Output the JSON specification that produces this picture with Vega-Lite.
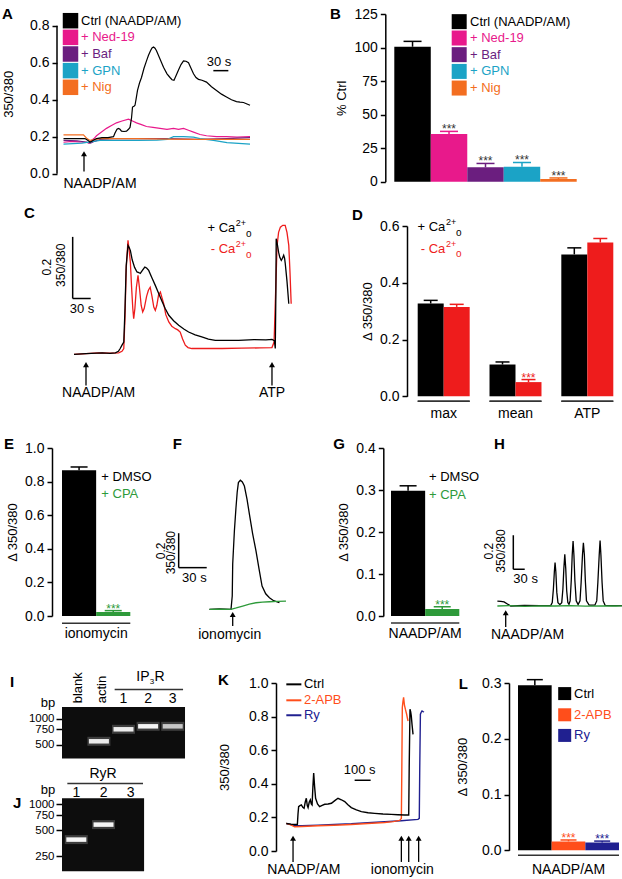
{
"$schema": "https://vega.github.io/schema/vega-lite/v6.json",
"padding": {"left": 2, "top": 6, "right": 0, "bottom": 0},
"background": "white",
"config": {
  "font": "Liberation Sans",
  "view": {"stroke": null},
  "axis": {"grid": false, "domainColor": "black", "tickColor": "black", "labelColor": "black", "titleColor": "black", "domainWidth": 1.5, "tickWidth": 1.5, "tickSize": 5, "labelFontSize": 14, "titleFontSize": 13, "titleFontWeight": "normal", "labelFont": "Liberation Sans", "titleFont": "Liberation Sans", "labelPadding": 3, "titlePadding": 5, "labelOverlap": false, "labelFlush": false},
  "text": {"font": "Liberation Sans", "color": "black"}
},
"datasets": {
  "A": [
    {"series":"+ Ned-19","t":3,"v":0.17},{"series":"+ Ned-19","t":20,"v":0.175},{"series":"+ Ned-19","t":35,"v":0.172},{"series":"+ Ned-19","t":49,"v":0.17},{"series":"+ Ned-19","t":54,"v":0.165},{"series":"+ Ned-19","t":59,"v":0.18},{"series":"+ Ned-19","t":64,"v":0.19},{"series":"+ Ned-19","t":69,"v":0.205},{"series":"+ Ned-19","t":79,"v":0.225},{"series":"+ Ned-19","t":89,"v":0.245},{"series":"+ Ned-19","t":99,"v":0.26},{"series":"+ Ned-19","t":109,"v":0.275},{"series":"+ Ned-19","t":120,"v":0.285},{"series":"+ Ned-19","t":133,"v":0.295},{"series":"+ Ned-19","t":141,"v":0.285},{"series":"+ Ned-19","t":149,"v":0.275},{"series":"+ Ned-19","t":159,"v":0.265},{"series":"+ Ned-19","t":169,"v":0.255},{"series":"+ Ned-19","t":182,"v":0.25},{"series":"+ Ned-19","t":196,"v":0.245},{"series":"+ Ned-19","t":210,"v":0.24},{"series":"+ Ned-19","t":223,"v":0.245},{"series":"+ Ned-19","t":233,"v":0.24},{"series":"+ Ned-19","t":243,"v":0.245},{"series":"+ Ned-19","t":253,"v":0.235},{"series":"+ Ned-19","t":263,"v":0.225},{"series":"+ Ned-19","t":276,"v":0.212},{"series":"+ Ned-19","t":289,"v":0.205},{"series":"+ Ned-19","t":309,"v":0.2},{"series":"+ Ned-19","t":329,"v":0.2},{"series":"+ Ned-19","t":350,"v":0.198},{"series":"+ Ned-19","t":376,"v":0.2},
    {"series":"+ Baf","t":3,"v":0.18},{"series":"+ Baf","t":30,"v":0.178},{"series":"+ Baf","t":50,"v":0.17},{"series":"+ Baf","t":57,"v":0.165},{"series":"+ Baf","t":65,"v":0.175},{"series":"+ Baf","t":76,"v":0.185},{"series":"+ Baf","t":103,"v":0.19},{"series":"+ Baf","t":150,"v":0.19},{"series":"+ Baf","t":210,"v":0.19},{"series":"+ Baf","t":270,"v":0.185},{"series":"+ Baf","t":330,"v":0.19},{"series":"+ Baf","t":376,"v":0.195},
    {"series":"+ GPN","t":3,"v":0.16},{"series":"+ GPN","t":40,"v":0.165},{"series":"+ GPN","t":76,"v":0.18},{"series":"+ GPN","t":150,"v":0.18},{"series":"+ GPN","t":190,"v":0.182},{"series":"+ GPN","t":210,"v":0.185},{"series":"+ GPN","t":223,"v":0.2},{"series":"+ GPN","t":243,"v":0.2},{"series":"+ GPN","t":263,"v":0.198},{"series":"+ GPN","t":276,"v":0.19},{"series":"+ GPN","t":303,"v":0.18},{"series":"+ GPN","t":330,"v":0.168},{"series":"+ GPN","t":376,"v":0.16},
    {"series":"+ Nig","t":3,"v":0.21},{"series":"+ Nig","t":43,"v":0.21},{"series":"+ Nig","t":50,"v":0.19},{"series":"+ Nig","t":56,"v":0.18},{"series":"+ Nig","t":76,"v":0.19},{"series":"+ Nig","t":150,"v":0.19},{"series":"+ Nig","t":210,"v":0.187},{"series":"+ Nig","t":270,"v":0.185},{"series":"+ Nig","t":330,"v":0.185},{"series":"+ Nig","t":376,"v":0.185},
    {"series":"Ctrl (NAADP/AM)","t":3,"v":0.19},{"series":"Ctrl (NAADP/AM)","t":20,"v":0.19},{"series":"Ctrl (NAADP/AM)","t":35,"v":0.19},{"series":"Ctrl (NAADP/AM)","t":46,"v":0.19},{"series":"Ctrl (NAADP/AM)","t":52,"v":0.18},{"series":"Ctrl (NAADP/AM)","t":56,"v":0.17},{"series":"Ctrl (NAADP/AM)","t":62,"v":0.18},{"series":"Ctrl (NAADP/AM)","t":69,"v":0.19},{"series":"Ctrl (NAADP/AM)","t":80,"v":0.195},{"series":"Ctrl (NAADP/AM)","t":92,"v":0.195},{"series":"Ctrl (NAADP/AM)","t":103,"v":0.2},{"series":"Ctrl (NAADP/AM)","t":106,"v":0.22},{"series":"Ctrl (NAADP/AM)","t":110,"v":0.24},{"series":"Ctrl (NAADP/AM)","t":113,"v":0.245},{"series":"Ctrl (NAADP/AM)","t":116,"v":0.24},{"series":"Ctrl (NAADP/AM)","t":119,"v":0.23},{"series":"Ctrl (NAADP/AM)","t":124,"v":0.228},{"series":"Ctrl (NAADP/AM)","t":129,"v":0.23},{"series":"Ctrl (NAADP/AM)","t":133,"v":0.24},{"series":"Ctrl (NAADP/AM)","t":136,"v":0.25},{"series":"Ctrl (NAADP/AM)","t":139,"v":0.3},{"series":"Ctrl (NAADP/AM)","t":141,"v":0.36},{"series":"Ctrl (NAADP/AM)","t":144,"v":0.365},{"series":"Ctrl (NAADP/AM)","t":146,"v":0.37},{"series":"Ctrl (NAADP/AM)","t":148,"v":0.4},{"series":"Ctrl (NAADP/AM)","t":151,"v":0.45},{"series":"Ctrl (NAADP/AM)","t":155,"v":0.49},{"series":"Ctrl (NAADP/AM)","t":159,"v":0.52},{"series":"Ctrl (NAADP/AM)","t":164,"v":0.57},{"series":"Ctrl (NAADP/AM)","t":169,"v":0.61},{"series":"Ctrl (NAADP/AM)","t":173,"v":0.64},{"series":"Ctrl (NAADP/AM)","t":177,"v":0.665},{"series":"Ctrl (NAADP/AM)","t":180,"v":0.68},{"series":"Ctrl (NAADP/AM)","t":183,"v":0.685},{"series":"Ctrl (NAADP/AM)","t":186,"v":0.678},{"series":"Ctrl (NAADP/AM)","t":189,"v":0.665},{"series":"Ctrl (NAADP/AM)","t":196,"v":0.62},{"series":"Ctrl (NAADP/AM)","t":203,"v":0.575},{"series":"Ctrl (NAADP/AM)","t":210,"v":0.54},{"series":"Ctrl (NAADP/AM)","t":216,"v":0.52},{"series":"Ctrl (NAADP/AM)","t":220,"v":0.508},{"series":"Ctrl (NAADP/AM)","t":224,"v":0.505},{"series":"Ctrl (NAADP/AM)","t":228,"v":0.53},{"series":"Ctrl (NAADP/AM)","t":233,"v":0.56},{"series":"Ctrl (NAADP/AM)","t":238,"v":0.59},{"series":"Ctrl (NAADP/AM)","t":243,"v":0.61},{"series":"Ctrl (NAADP/AM)","t":248,"v":0.608},{"series":"Ctrl (NAADP/AM)","t":253,"v":0.6},{"series":"Ctrl (NAADP/AM)","t":258,"v":0.57},{"series":"Ctrl (NAADP/AM)","t":263,"v":0.54},{"series":"Ctrl (NAADP/AM)","t":268,"v":0.52},{"series":"Ctrl (NAADP/AM)","t":273,"v":0.51},{"series":"Ctrl (NAADP/AM)","t":280,"v":0.505},{"series":"Ctrl (NAADP/AM)","t":289,"v":0.495},{"series":"Ctrl (NAADP/AM)","t":299,"v":0.47},{"series":"Ctrl (NAADP/AM)","t":309,"v":0.45},{"series":"Ctrl (NAADP/AM)","t":319,"v":0.43},{"series":"Ctrl (NAADP/AM)","t":329,"v":0.415},{"series":"Ctrl (NAADP/AM)","t":339,"v":0.4},{"series":"Ctrl (NAADP/AM)","t":349,"v":0.39},{"series":"Ctrl (NAADP/AM)","t":356,"v":0.387},{"series":"Ctrl (NAADP/AM)","t":363,"v":0.385},{"series":"Ctrl (NAADP/AM)","t":370,"v":0.377},{"series":"Ctrl (NAADP/AM)","t":376,"v":0.37}
  ],
  "B": [
    {"series":"Ctrl (NAADP/AM)","value":100.6,"err":104.6,"sig":""},
    {"series":"+ Ned-19","value":35.5,"err":37.5,"sig":"***"},
    {"series":"+ Baf","value":10.7,"err":13.6,"sig":"***"},
    {"series":"+ GPN","value":11.2,"err":14.4,"sig":"***"},
    {"series":"+ Nig","value":2.0,"err":2.8,"sig":"***"}
  ],
  "C": [
    {"cond":"- Ca","t":0,"v":0},{"cond":"- Ca","t":20,"v":0.002},{"cond":"- Ca","t":41,"v":0.005},{"cond":"- Ca","t":60,"v":0.004},{"cond":"- Ca","t":74.5,"v":0.005},{"cond":"- Ca","t":80,"v":0.01},{"cond":"- Ca","t":83,"v":0.019},{"cond":"- Ca","t":85,"v":0.12},{"cond":"- Ca","t":87,"v":0.28},{"cond":"- Ca","t":90,"v":0.374},{"cond":"- Ca","t":92,"v":0.34},{"cond":"- Ca","t":94,"v":0.3},{"cond":"- Ca","t":96,"v":0.22},{"cond":"- Ca","t":98,"v":0.15},{"cond":"- Ca","t":99.5,"v":0.117},{"cond":"- Ca","t":101.5,"v":0.15},{"cond":"- Ca","t":104,"v":0.22},{"cond":"- Ca","t":106.7,"v":0.259},{"cond":"- Ca","t":109,"v":0.22},{"cond":"- Ca","t":112,"v":0.16},{"cond":"- Ca","t":114.5,"v":0.139},{"cond":"- Ca","t":117,"v":0.15},{"cond":"- Ca","t":121,"v":0.19},{"cond":"- Ca","t":124,"v":0.21},{"cond":"- Ca","t":127,"v":0.22},{"cond":"- Ca","t":130,"v":0.19},{"cond":"- Ca","t":133,"v":0.155},{"cond":"- Ca","t":135.5,"v":0.144},{"cond":"- Ca","t":138,"v":0.16},{"cond":"- Ca","t":141,"v":0.195},{"cond":"- Ca","t":144,"v":0.204},{"cond":"- Ca","t":146,"v":0.19},{"cond":"- Ca","t":149.5,"v":0.166},{"cond":"- Ca","t":153,"v":0.13},{"cond":"- Ca","t":158,"v":0.106},{"cond":"- Ca","t":163,"v":0.092},{"cond":"- Ca","t":169,"v":0.084},{"cond":"- Ca","t":173,"v":0.08},{"cond":"- Ca","t":177,"v":0.073},{"cond":"- Ca","t":181,"v":0.05},{"cond":"- Ca","t":185.5,"v":0.03},{"cond":"- Ca","t":190,"v":0.022},{"cond":"- Ca","t":196.5,"v":0.019},{"cond":"- Ca","t":220,"v":0.019},{"cond":"- Ca","t":246.7,"v":0.019},{"cond":"- Ca","t":280,"v":0.02},{"cond":"- Ca","t":310,"v":0.021},{"cond":"- Ca","t":330,"v":0.022},{"cond":"- Ca","t":333.5,"v":0.04},{"cond":"- Ca","t":336,"v":0.2},{"cond":"- Ca","t":338.5,"v":0.357},{"cond":"- Ca","t":341,"v":0.4},{"cond":"- Ca","t":344,"v":0.417},{"cond":"- Ca","t":348,"v":0.423},{"cond":"- Ca","t":352,"v":0.423},{"cond":"- Ca","t":355,"v":0.4},{"cond":"- Ca","t":358,"v":0.357},{"cond":"- Ca","t":360,"v":0.27},{"cond":"- Ca","t":362,"v":0.166},
    {"cond":"+ Ca","t":0,"v":0},{"cond":"+ Ca","t":20,"v":0.002},{"cond":"+ Ca","t":47,"v":0.005},{"cond":"+ Ca","t":60,"v":0.003},{"cond":"+ Ca","t":69,"v":0.005},{"cond":"+ Ca","t":74,"v":0.01},{"cond":"+ Ca","t":77,"v":0.019},{"cond":"+ Ca","t":80,"v":0.03},{"cond":"+ Ca","t":83,"v":0.04},{"cond":"+ Ca","t":85,"v":0.15},{"cond":"+ Ca","t":87,"v":0.29},{"cond":"+ Ca","t":90,"v":0.357},{"cond":"+ Ca","t":92,"v":0.35},{"cond":"+ Ca","t":94,"v":0.34},{"cond":"+ Ca","t":97,"v":0.31},{"cond":"+ Ca","t":101,"v":0.285},{"cond":"+ Ca","t":105,"v":0.27},{"cond":"+ Ca","t":108,"v":0.268},{"cond":"+ Ca","t":110.5,"v":0.265},{"cond":"+ Ca","t":114,"v":0.275},{"cond":"+ Ca","t":118,"v":0.286},{"cond":"+ Ca","t":121,"v":0.283},{"cond":"+ Ca","t":124.5,"v":0.275},{"cond":"+ Ca","t":130,"v":0.25},{"cond":"+ Ca","t":135.5,"v":0.226},{"cond":"+ Ca","t":141,"v":0.2},{"cond":"+ Ca","t":147,"v":0.172},{"cond":"+ Ca","t":152,"v":0.15},{"cond":"+ Ca","t":158,"v":0.128},{"cond":"+ Ca","t":166,"v":0.11},{"cond":"+ Ca","t":174.5,"v":0.095},{"cond":"+ Ca","t":183,"v":0.083},{"cond":"+ Ca","t":191,"v":0.073},{"cond":"+ Ca","t":202,"v":0.064},{"cond":"+ Ca","t":213,"v":0.057},{"cond":"+ Ca","t":224,"v":0.05},{"cond":"+ Ca","t":235.5,"v":0.046},{"cond":"+ Ca","t":255,"v":0.046},{"cond":"+ Ca","t":274.5,"v":0.046},{"cond":"+ Ca","t":300,"v":0.048},{"cond":"+ Ca","t":320,"v":0.047},{"cond":"+ Ca","t":330,"v":0.049},{"cond":"+ Ca","t":334,"v":0.045},{"cond":"+ Ca","t":335.5,"v":0.019},{"cond":"+ Ca","t":336.5,"v":0.2},{"cond":"+ Ca","t":337,"v":0.379},{"cond":"+ Ca","t":339,"v":0.36},{"cond":"+ Ca","t":341,"v":0.335},{"cond":"+ Ca","t":343,"v":0.318},{"cond":"+ Ca","t":345.5,"v":0.308},{"cond":"+ Ca","t":347.5,"v":0.315},{"cond":"+ Ca","t":349.5,"v":0.325},{"cond":"+ Ca","t":351,"v":0.315},{"cond":"+ Ca","t":352,"v":0.3},{"cond":"+ Ca","t":355,"v":0.24},{"cond":"+ Ca","t":358,"v":0.166}
  ],
  "D": [
    {"group":"max","cond":"+ Ca","value":0.327,"err":0.338,"sig":""},
    {"group":"max","cond":"- Ca","value":0.315,"err":0.324,"sig":""},
    {"group":"mean","cond":"+ Ca","value":0.112,"err":0.121,"sig":""},
    {"group":"mean","cond":"- Ca","value":0.05,"err":0.059,"sig":"***"},
    {"group":"ATP","cond":"+ Ca","value":0.5,"err":0.523,"sig":""},
    {"group":"ATP","cond":"- Ca","value":0.542,"err":0.556,"sig":""}
  ],
  "E": [
    {"cond":"+ DMSO","value":0.867,"err":0.887,"sig":""},
    {"cond":"+ CPA","value":0.024,"err":0.032,"sig":"***"}
  ],
  "F": [
    {"cond":"+ DMSO","t":39.3,"v":0},{"cond":"+ DMSO","t":50,"v":0.002},{"cond":"+ DMSO","t":62.4,"v":0},{"cond":"+ DMSO","t":63.7,"v":0.077},{"cond":"+ DMSO","t":64.2,"v":0.263},{"cond":"+ DMSO","t":66,"v":0.455},{"cond":"+ DMSO","t":67.7,"v":0.59},{"cond":"+ DMSO","t":69,"v":0.68},{"cond":"+ DMSO","t":70.3,"v":0.736},{"cond":"+ DMSO","t":72.4,"v":0.75},{"cond":"+ DMSO","t":74.5,"v":0.74},{"cond":"+ DMSO","t":76.7,"v":0.716},{"cond":"+ DMSO","t":79.5,"v":0.64},{"cond":"+ DMSO","t":82.1,"v":0.552},{"cond":"+ DMSO","t":85.5,"v":0.44},{"cond":"+ DMSO","t":89.1,"v":0.339},{"cond":"+ DMSO","t":92.5,"v":0.23},{"cond":"+ DMSO","t":95.6,"v":0.135},{"cond":"+ DMSO","t":99.5,"v":0.09},{"cond":"+ DMSO","t":103.5,"v":0.067},{"cond":"+ DMSO","t":108,"v":0.05},{"cond":"+ DMSO","t":114.2,"v":0.038},
    {"cond":"+ CPA","t":39.3,"v":0},{"cond":"+ CPA","t":50,"v":0.001},{"cond":"+ CPA","t":62.4,"v":0},{"cond":"+ CPA","t":68,"v":0.008},{"cond":"+ CPA","t":74.9,"v":0.019},{"cond":"+ CPA","t":82,"v":0.03},{"cond":"+ CPA","t":89.1,"v":0.038},{"cond":"+ CPA","t":96,"v":0.042},{"cond":"+ CPA","t":103.5,"v":0.044},{"cond":"+ CPA","t":112,"v":0.046},{"cond":"+ CPA","t":121.2,"v":0.048}
  ],
  "G": [
    {"cond":"+ DMSO","value":0.298,"err":0.31,"sig":""},
    {"cond":"+ CPA","value":0.0167,"err":0.022,"sig":"***"}
  ],
  "H": [
    {"cond":"+ DMSO","t":8.7,"v":0.029},{"cond":"+ DMSO","t":18,"v":0.027},{"cond":"+ DMSO","t":26.3,"v":0.024},{"cond":"+ DMSO","t":35,"v":0.012},{"cond":"+ DMSO","t":43.9,"v":0},{"cond":"+ DMSO","t":80,"v":0.003},{"cond":"+ DMSO","t":120,"v":0.002},{"cond":"+ DMSO","t":149,"v":0.003},{"cond":"+ DMSO","t":153,"v":0.02},{"cond":"+ DMSO","t":156,"v":0.1},{"cond":"+ DMSO","t":158.5,"v":0.2},{"cond":"+ DMSO","t":160.4,"v":0.255},{"cond":"+ DMSO","t":162.5,"v":0.2},{"cond":"+ DMSO","t":165,"v":0.08},{"cond":"+ DMSO","t":168,"v":0.02},{"cond":"+ DMSO","t":173,"v":0.008},{"cond":"+ DMSO","t":178,"v":0.02},{"cond":"+ DMSO","t":181,"v":0.1},{"cond":"+ DMSO","t":183.5,"v":0.22},{"cond":"+ DMSO","t":186,"v":0.304},{"cond":"+ DMSO","t":188.5,"v":0.22},{"cond":"+ DMSO","t":191,"v":0.09},{"cond":"+ DMSO","t":194,"v":0.02},{"cond":"+ DMSO","t":197,"v":0.01},{"cond":"+ DMSO","t":200,"v":0.03},{"cond":"+ DMSO","t":203,"v":0.15},{"cond":"+ DMSO","t":205.5,"v":0.3},{"cond":"+ DMSO","t":207.8,"v":0.382},{"cond":"+ DMSO","t":210,"v":0.3},{"cond":"+ DMSO","t":212.5,"v":0.15},{"cond":"+ DMSO","t":216,"v":0.03},{"cond":"+ DMSO","t":221,"v":0.008},{"cond":"+ DMSO","t":226,"v":0.03},{"cond":"+ DMSO","t":229,"v":0.14},{"cond":"+ DMSO","t":232.5,"v":0.3},{"cond":"+ DMSO","t":234.9,"v":0.372},{"cond":"+ DMSO","t":237.5,"v":0.3},{"cond":"+ DMSO","t":240,"v":0.15},{"cond":"+ DMSO","t":243,"v":0.03},{"cond":"+ DMSO","t":250,"v":0.005},{"cond":"+ DMSO","t":265,"v":0.005},{"cond":"+ DMSO","t":270,"v":0.03},{"cond":"+ DMSO","t":273,"v":0.14},{"cond":"+ DMSO","t":276.5,"v":0.3},{"cond":"+ DMSO","t":278.8,"v":0.385},{"cond":"+ DMSO","t":281,"v":0.3},{"cond":"+ DMSO","t":284,"v":0.14},{"cond":"+ DMSO","t":287,"v":0.03},{"cond":"+ DMSO","t":292,"v":0.004},{"cond":"+ DMSO","t":310,"v":0.002},{"cond":"+ DMSO","t":340,"v":0.002},
    {"cond":"+ CPA","t":8.7,"v":0},{"cond":"+ CPA","t":40,"v":0.002},{"cond":"+ CPA","t":80,"v":-0.002},{"cond":"+ CPA","t":120,"v":0.001},{"cond":"+ CPA","t":160,"v":0},{"cond":"+ CPA","t":200,"v":0.002},{"cond":"+ CPA","t":240,"v":-0.001},{"cond":"+ CPA","t":280,"v":0.001},{"cond":"+ CPA","t":320,"v":0},{"cond":"+ CPA","t":340,"v":0.001}
  ],
  "K": [
    {"series":"Ry","t":52,"v":0.164},{"series":"Ry","t":80,"v":0.158},{"series":"Ry","t":104,"v":0.15},{"series":"Ry","t":150,"v":0.15},{"series":"Ry","t":250,"v":0.154},{"series":"Ry","t":350,"v":0.158},{"series":"Ry","t":458,"v":0.162},{"series":"Ry","t":560,"v":0.168},{"series":"Ry","t":667,"v":0.174},{"series":"Ry","t":770,"v":0.18},{"series":"Ry","t":875,"v":0.188},{"series":"Ry","t":883,"v":0.194},{"series":"Ry","t":886,"v":0.5},{"series":"Ry","t":890,"v":0.814},{"series":"Ry","t":895,"v":0.826},{"series":"Ry","t":900,"v":0.834},{"series":"Ry","t":906,"v":0.83},{"series":"Ry","t":913,"v":0.828},
    {"series":"2-APB","t":52,"v":0.164},{"series":"2-APB","t":80,"v":0.155},{"series":"2-APB","t":104,"v":0.144},{"series":"2-APB","t":150,"v":0.146},{"series":"2-APB","t":250,"v":0.15},{"series":"2-APB","t":350,"v":0.153},{"series":"2-APB","t":458,"v":0.158},{"series":"2-APB","t":560,"v":0.164},{"series":"2-APB","t":667,"v":0.17},{"series":"2-APB","t":720,"v":0.175},{"series":"2-APB","t":760,"v":0.182},{"series":"2-APB","t":771,"v":0.194},{"series":"2-APB","t":774,"v":0.5},{"series":"2-APB","t":777,"v":0.854},{"series":"2-APB","t":781,"v":0.89},{"series":"2-APB","t":785,"v":0.914},{"series":"2-APB","t":790,"v":0.87},{"series":"2-APB","t":796,"v":0.844},{"series":"2-APB","t":804,"v":0.814},{"series":"2-APB","t":809,"v":0.79},{"series":"2-APB","t":813,"v":0.774},
    {"series":"Ctrl","t":52,"v":0.164},{"series":"Ctrl","t":80,"v":0.16},{"series":"Ctrl","t":104,"v":0.158},{"series":"Ctrl","t":121,"v":0.158},{"series":"Ctrl","t":125,"v":0.22},{"series":"Ctrl","t":129,"v":0.264},{"series":"Ctrl","t":137,"v":0.27},{"series":"Ctrl","t":146,"v":0.274},{"series":"Ctrl","t":155,"v":0.26},{"series":"Ctrl","t":163,"v":0.254},{"series":"Ctrl","t":170,"v":0.29},{"series":"Ctrl","t":177,"v":0.314},{"series":"Ctrl","t":183,"v":0.27},{"series":"Ctrl","t":188,"v":0.258},{"series":"Ctrl","t":195,"v":0.29},{"series":"Ctrl","t":202,"v":0.304},{"series":"Ctrl","t":208,"v":0.28},{"series":"Ctrl","t":213,"v":0.274},{"series":"Ctrl","t":218,"v":0.38},{"series":"Ctrl","t":223,"v":0.464},{"series":"Ctrl","t":229,"v":0.38},{"series":"Ctrl","t":235,"v":0.314},{"series":"Ctrl","t":247,"v":0.28},{"series":"Ctrl","t":260,"v":0.264},{"series":"Ctrl","t":276,"v":0.272},{"series":"Ctrl","t":292,"v":0.278},{"series":"Ctrl","t":313,"v":0.28},{"series":"Ctrl","t":334,"v":0.284},{"series":"Ctrl","t":355,"v":0.3},{"series":"Ctrl","t":375,"v":0.314},{"series":"Ctrl","t":396,"v":0.305},{"series":"Ctrl","t":417,"v":0.294},{"series":"Ctrl","t":437,"v":0.275},{"series":"Ctrl","t":458,"v":0.258},{"series":"Ctrl","t":490,"v":0.245},{"series":"Ctrl","t":521,"v":0.234},{"series":"Ctrl","t":563,"v":0.228},{"series":"Ctrl","t":604,"v":0.224},{"series":"Ctrl","t":656,"v":0.22},{"series":"Ctrl","t":708,"v":0.218},{"series":"Ctrl","t":750,"v":0.216},{"series":"Ctrl","t":792,"v":0.214},{"series":"Ctrl","t":817,"v":0.214},{"series":"Ctrl","t":820,"v":0.5},{"series":"Ctrl","t":825,"v":0.844},{"series":"Ctrl","t":829,"v":0.83},{"series":"Ctrl","t":833,"v":0.804},{"series":"Ctrl","t":838,"v":0.75},{"series":"Ctrl","t":844,"v":0.694}
  ],
  "L": [
    {"series":"Ctrl","value":0.296,"err":0.306,"sig":""},
    {"series":"2-APB","value":0.016,"err":0.0185,"sig":"***"},
    {"series":"Ry","value":0.0138,"err":0.0165,"sig":"***"}
  ],
  "gelI": [
    {"lane":2,"bp":546,"intensity":0.95},
    {"lane":3,"bp":752,"intensity":0.95},
    {"lane":4,"bp":814,"intensity":1},
    {"lane":5,"bp":814,"intensity":0.75}
  ],
  "gelJ": [
    {"lane":1,"bp":388,"intensity":1},
    {"lane":2,"bp":580,"intensity":1}
  ]
},
"resolve": {"scale": {"color": "independent", "x": "independent", "y": "independent", "opacity": "independent"}},
"spacing": 15,
"vconcat": [
 {"spacing": 14,
  "resolve": {"scale": {"color": "independent", "x": "independent", "y": "independent", "opacity": "independent"}},
  "vconcat": [
   {"hconcat": [
     {"width": 190, "height": 159.7,
      "layer": [
       {"data": {"name": "A"}, "mark": {"type": "line", "strokeWidth": 1.2},
        "encoding": {
         "x": {"field": "t", "type": "quantitative", "scale": {"domain": [0, 380], "nice": false, "zero": false}, "axis": null},
         "y": {"field": "v", "type": "quantitative", "scale": {"domain": [0, 0.8632], "nice": false, "zero": false}, "axis": {"values": [0, 0.2, 0.4, 0.6, 0.8], "tickCount": 12, "format": ".1f", "domain": false, "offset": 5, "title": "350/380", "titlePadding": 14}},
         "color": {"field": "series", "type": "nominal", "scale": {"domain": ["Ctrl (NAADP/AM)", "+ Ned-19", "+ Baf", "+ GPN", "+ Nig"], "range": ["#000000", "#E8198B", "#6B1E7F", "#1BA3C6", "#F36E21"]}, "legend": null}}},
       {"data": {"values": [{}]}, "layer": [
         {"mark": {"type": "rule", "strokeWidth": 1.5, "color": "black"}, "encoding": {"x": {"datum": -10}, "y": {"datum": 0}, "y2": {"datum": 0.8}}},
         {"mark": {"type": "point", "shape": "square", "filled": true, "size": 240, "opacity": 1, "color": "#000000"}, "encoding": {"x": {"datum": 17}, "y": {"datum": 0.827}}},
         {"mark": {"type": "point", "shape": "square", "filled": true, "size": 240, "opacity": 1, "color": "#E8198B"}, "encoding": {"x": {"datum": 17}, "y": {"datum": 0.737}}},
         {"mark": {"type": "point", "shape": "square", "filled": true, "size": 240, "opacity": 1, "color": "#6B1E7F"}, "encoding": {"x": {"datum": 17}, "y": {"datum": 0.647}}},
         {"mark": {"type": "point", "shape": "square", "filled": true, "size": 240, "opacity": 1, "color": "#1BA3C6"}, "encoding": {"x": {"datum": 17}, "y": {"datum": 0.557}}},
         {"mark": {"type": "point", "shape": "square", "filled": true, "size": 240, "opacity": 1, "color": "#F36E21"}, "encoding": {"x": {"datum": 17}, "y": {"datum": 0.467}}},
         {"mark": {"type": "text", "text": "Ctrl (NAADP/AM)", "align": "left", "baseline": "middle", "fontSize": 13, "color": "#000000"}, "encoding": {"x": {"datum": 38}, "y": {"datum": 0.827}}},
         {"mark": {"type": "text", "text": "+ Ned-19", "align": "left", "baseline": "middle", "fontSize": 13, "color": "#E8198B"}, "encoding": {"x": {"datum": 38}, "y": {"datum": 0.737}}},
         {"mark": {"type": "text", "text": "+ Baf", "align": "left", "baseline": "middle", "fontSize": 13, "color": "#6B1E7F"}, "encoding": {"x": {"datum": 38}, "y": {"datum": 0.647}}},
         {"mark": {"type": "text", "text": "+ GPN", "align": "left", "baseline": "middle", "fontSize": 13, "color": "#1BA3C6"}, "encoding": {"x": {"datum": 38}, "y": {"datum": 0.557}}},
         {"mark": {"type": "text", "text": "+ Nig", "align": "left", "baseline": "middle", "fontSize": 13, "color": "#F36E21"}, "encoding": {"x": {"datum": 38}, "y": {"datum": 0.467}}},
         {"mark": {"type": "rule", "strokeWidth": 1.5, "color": "black"}, "encoding": {"x": {"datum": 302.7}, "x2": {"datum": 332.7}, "y": {"datum": 0.557}}},
         {"mark": {"type": "text", "text": "30 s", "align": "center", "baseline": "middle", "fontSize": 13}, "encoding": {"x": {"datum": 314}, "y": {"datum": 0.605}}},
         {"mark": {"type": "rule", "strokeWidth": 1.3, "color": "black"}, "encoding": {"x": {"datum": 44}, "y": {"datum": 0.012}, "y2": {"datum": 0.1}}},
         {"mark": {"type": "point", "shape": "triangle-up", "filled": true, "size": 35, "opacity": 1, "color": "black"}, "encoding": {"x": {"datum": 44}, "y": {"datum": 0.108}}},
         {"mark": {"type": "text", "text": "NAADP/AM", "align": "center", "baseline": "middle", "fontSize": 14}, "encoding": {"x": {"datum": 76}, "y": {"datum": -0.056}}},
         {"mark": {"type": "text", "text": "A", "align": "left", "baseline": "middle", "fontSize": 15, "fontWeight": "bold"}, "encoding": {"x": {"datum": -120}, "y": {"datum": 0.865}}}
       ]}
      ]},
     {"width": 182.4, "height": 167.7,
      "layer": [
       {"data": {"name": "B"}, "layer": [
         {"mark": {"type": "bar"},
          "encoding": {
           "x": {"field": "series", "type": "nominal", "sort": null, "scale": {"domain": ["Ctrl (NAADP/AM)", "+ Ned-19", "+ Baf", "+ GPN", "+ Nig"], "paddingInner": 0, "paddingOuter": 0}, "axis": null},
           "y": {"field": "value", "type": "quantitative", "scale": {"domain": [0, 125], "nice": false}, "axis": {"values": [0, 25, 50, 75, 100, 125], "tickCount": 12, "offset": 9, "title": "% Ctrl"}},
           "color": {"field": "series", "type": "nominal", "scale": {"domain": ["Ctrl (NAADP/AM)", "+ Ned-19", "+ Baf", "+ GPN", "+ Nig"], "range": ["#000000", "#E8198B", "#6B1E7F", "#1BA3C6", "#F36E21"]}, "legend": null}}},
         {"mark": {"type": "rule", "strokeWidth": 1.5}, "encoding": {"x": {"field": "series", "type": "nominal"}, "y": {"field": "value", "type": "quantitative"}, "y2": {"field": "err"}, "color": {"field": "series", "type": "nominal"}}},
         {"mark": {"type": "tick", "orient": "horizontal", "size": 18, "thickness": 1.5, "opacity": 1}, "encoding": {"x": {"field": "series", "type": "nominal"}, "y": {"field": "err", "type": "quantitative"}, "color": {"field": "series", "type": "nominal"}}},
         {"mark": {"type": "text", "baseline": "alphabetic", "dy": 2, "fontSize": 12, "color": "#333333"}, "encoding": {"x": {"field": "series", "type": "nominal"}, "y": {"field": "err", "type": "quantitative"}, "text": {"field": "sig"}}}
       ]},
       {"data": {"values": [{}]}, "layer": [
         {"mark": {"type": "point", "shape": "square", "filled": true, "size": 225, "opacity": 1, "color": "#000000"}, "encoding": {"x": {"datum": "Ctrl (NAADP/AM)", "bandPosition": 1.779}, "y": {"datum": 119.3}}},
         {"mark": {"type": "point", "shape": "square", "filled": true, "size": 225, "opacity": 1, "color": "#E8198B"}, "encoding": {"x": {"datum": "Ctrl (NAADP/AM)", "bandPosition": 1.779}, "y": {"datum": 107.1}}},
         {"mark": {"type": "point", "shape": "square", "filled": true, "size": 225, "opacity": 1, "color": "#6B1E7F"}, "encoding": {"x": {"datum": "Ctrl (NAADP/AM)", "bandPosition": 1.779}, "y": {"datum": 94.7}}},
         {"mark": {"type": "point", "shape": "square", "filled": true, "size": 225, "opacity": 1, "color": "#1BA3C6"}, "encoding": {"x": {"datum": "Ctrl (NAADP/AM)", "bandPosition": 1.779}, "y": {"datum": 82.2}}},
         {"mark": {"type": "point", "shape": "square", "filled": true, "size": 225, "opacity": 1, "color": "#F36E21"}, "encoding": {"x": {"datum": "Ctrl (NAADP/AM)", "bandPosition": 1.779}, "y": {"datum": 69.8}}},
         {"mark": {"type": "text", "text": "Ctrl (NAADP/AM)", "align": "left", "baseline": "middle", "fontSize": 13, "color": "#000000"}, "encoding": {"x": {"datum": "Ctrl (NAADP/AM)", "bandPosition": 2.075}, "y": {"datum": 119.3}}},
         {"mark": {"type": "text", "text": "+ Ned-19", "align": "left", "baseline": "middle", "fontSize": 13, "color": "#E8198B"}, "encoding": {"x": {"datum": "Ctrl (NAADP/AM)", "bandPosition": 2.075}, "y": {"datum": 107.1}}},
         {"mark": {"type": "text", "text": "+ Baf", "align": "left", "baseline": "middle", "fontSize": 13, "color": "#6B1E7F"}, "encoding": {"x": {"datum": "Ctrl (NAADP/AM)", "bandPosition": 2.075}, "y": {"datum": 94.7}}},
         {"mark": {"type": "text", "text": "+ GPN", "align": "left", "baseline": "middle", "fontSize": 13, "color": "#1BA3C6"}, "encoding": {"x": {"datum": "Ctrl (NAADP/AM)", "bandPosition": 2.075}, "y": {"datum": 82.2}}},
         {"mark": {"type": "text", "text": "+ Nig", "align": "left", "baseline": "middle", "fontSize": 13, "color": "#F36E21"}, "encoding": {"x": {"datum": "Ctrl (NAADP/AM)", "bandPosition": 2.075}, "y": {"datum": 69.8}}},
         {"mark": {"type": "text", "text": "B", "align": "left", "baseline": "middle", "fontSize": 15, "fontWeight": "bold"}, "encoding": {"x": {"datum": "Ctrl (NAADP/AM)", "bandPosition": -1.763}, "y": {"datum": 125.2}}}
       ]}
      ]}
    ],
    "spacing": 142.3, "bounds": "flush",
    "resolve": {"scale": {"color": "independent", "x": "independent", "y": "independent", "opacity": "independent"}}},
   {"hconcat": [
     {"width": 232, "height": 170.3,
      "layer": [
       {"data": {"name": "C"}, "mark": {"type": "line", "strokeWidth": 1.3},
        "encoding": {
         "x": {"field": "t", "type": "quantitative", "scale": {"domain": [-20, 366.7], "nice": false, "zero": false}, "axis": null},
         "y": {"field": "v", "type": "quantitative", "scale": {"domain": [-0.1377, 0.4207], "nice": false, "zero": false}, "axis": null},
         "color": {"field": "cond", "type": "nominal", "scale": {"domain": ["+ Ca", "- Ca"], "range": ["#000000", "#EE1C1C"]}, "legend": null}}},
       {"data": {"values": [{}]}, "layer": [
         {"mark": {"type": "rule", "strokeWidth": 1.5, "color": "black"}, "encoding": {"x": {"datum": -2.2}, "y": {"datum": 0.183}, "y2": {"datum": 0.385}}},
         {"mark": {"type": "rule", "strokeWidth": 1.5, "color": "black"}, "encoding": {"x": {"datum": -2.2}, "x2": {"datum": 27.8}, "y": {"datum": 0.183}}},
         {"mark": {"type": "text", "text": "0.2", "angle": 270, "align": "center", "baseline": "middle", "fontSize": 12}, "encoding": {"x": {"datum": -45}, "y": {"datum": 0.286}}},
         {"mark": {"type": "text", "text": "350/380", "angle": 270, "align": "center", "baseline": "middle", "fontSize": 12}, "encoding": {"x": {"datum": -21}, "y": {"datum": 0.292}}},
         {"mark": {"type": "text", "text": "30 s", "align": "center", "baseline": "middle", "fontSize": 13}, "encoding": {"x": {"datum": 13.3}, "y": {"datum": 0.148}}},
         {"mark": {"type": "text", "text": "+ Ca", "align": "right", "baseline": "middle", "fontSize": 13, "color": "#000000"}, "encoding": {"x": {"datum": 268.9}, "y": {"datum": 0.414}}},
         {"mark": {"type": "text", "text": "2+", "align": "left", "baseline": "middle", "fontSize": 9, "color": "#000000"}, "encoding": {"x": {"datum": 269.5}, "y": {"datum": 0.432}}},
         {"mark": {"type": "text", "text": "o", "align": "left", "baseline": "middle", "fontSize": 10, "color": "#000000"}, "encoding": {"x": {"datum": 286.7}, "y": {"datum": 0.394}}},
         {"mark": {"type": "text", "text": "- Ca", "align": "right", "baseline": "middle", "fontSize": 13, "color": "#EE1C1C"}, "encoding": {"x": {"datum": 268.9}, "y": {"datum": 0.344}}},
         {"mark": {"type": "text", "text": "2+", "align": "left", "baseline": "middle", "fontSize": 9, "color": "#EE1C1C"}, "encoding": {"x": {"datum": 269.5}, "y": {"datum": 0.362}}},
         {"mark": {"type": "text", "text": "o", "align": "left", "baseline": "middle", "fontSize": 10, "color": "#EE1C1C"}, "encoding": {"x": {"datum": 286.7}, "y": {"datum": 0.324}}},
         {"mark": {"type": "rule", "strokeWidth": 1.3, "color": "black"}, "encoding": {"x": {"datum": 20}, "y": {"datum": -0.102}, "y2": {"datum": -0.04}}},
         {"mark": {"type": "point", "shape": "triangle-up", "filled": true, "size": 35, "opacity": 1, "color": "black"}, "encoding": {"x": {"datum": 20}, "y": {"datum": -0.034}}},
         {"mark": {"type": "rule", "strokeWidth": 1.3, "color": "black"}, "encoding": {"x": {"datum": 330}, "y": {"datum": -0.102}, "y2": {"datum": -0.04}}},
         {"mark": {"type": "point", "shape": "triangle-up", "filled": true, "size": 35, "opacity": 1, "color": "black"}, "encoding": {"x": {"datum": 330}, "y": {"datum": -0.034}}},
         {"mark": {"type": "text", "text": "NAADP/AM", "align": "center", "baseline": "middle", "fontSize": 14}, "encoding": {"x": {"datum": 41}, "y": {"datum": -0.126}}},
         {"mark": {"type": "text", "text": "ATP", "align": "center", "baseline": "middle", "fontSize": 14}, "encoding": {"x": {"datum": 330}, "y": {"datum": -0.126}}},
         {"mark": {"type": "text", "text": "C", "align": "left", "baseline": "middle", "fontSize": 15, "fontWeight": "bold"}, "encoding": {"x": {"datum": -83.3}, "y": {"datum": 0.462}}}
       ]}
      ]},
     {"width": 195.6, "height": 170.3,
      "layer": [
       {"data": {"name": "D"}, "layer": [
         {"mark": {"type": "bar"},
          "encoding": {
           "x": {"field": "group", "type": "nominal", "sort": null, "scale": {"domain": ["max", "mean", "ATP"], "paddingInner": 0.276, "paddingOuter": 0}, "axis": {"title": null, "domain": false, "ticks": false, "labelPadding": 10, "labelFontSize": 14, "labelAngle": 0}},
           "xOffset": {"field": "cond", "type": "nominal", "sort": null, "scale": {"domain": ["+ Ca", "- Ca"], "paddingInner": 0, "paddingOuter": 0}},
           "y": {"field": "value", "type": "quantitative", "scale": {"domain": [0, 0.6], "nice": false}, "axis": {"values": [0, 0.2, 0.4, 0.6], "tickCount": 12, "format": ".1f", "offset": 10.7, "title": "Δ 350/380"}},
           "color": {"field": "cond", "type": "nominal", "scale": {"domain": ["+ Ca", "- Ca"], "range": ["#000000", "#EE1C1C"]}, "legend": null}}},
         {"mark": {"type": "rule", "strokeWidth": 1.5}, "encoding": {"x": {"field": "group", "type": "nominal"}, "xOffset": {"field": "cond", "type": "nominal"}, "y": {"field": "value", "type": "quantitative"}, "y2": {"field": "err"}, "color": {"field": "cond", "type": "nominal"}}},
         {"mark": {"type": "tick", "orient": "horizontal", "size": 14, "thickness": 1.5, "opacity": 1}, "encoding": {"x": {"field": "group", "type": "nominal"}, "xOffset": {"field": "cond", "type": "nominal"}, "y": {"field": "err", "type": "quantitative"}, "color": {"field": "cond", "type": "nominal"}}},
         {"mark": {"type": "text", "baseline": "alphabetic", "dy": 2, "fontSize": 12}, "encoding": {"x": {"field": "group", "type": "nominal"}, "xOffset": {"field": "cond", "type": "nominal"}, "y": {"field": "err", "type": "quantitative"}, "text": {"field": "sig"}, "color": {"field": "cond", "type": "nominal"}}},
         {"mark": {"type": "bar", "color": "#333333"}, "encoding": {"x": {"field": "group", "type": "nominal"}, "y": {"datum": -0.015}, "y2": {"datum": -0.0203}}}
       ]},
       {"data": {"values": [{}]}, "layer": [
         {"mark": {"type": "text", "text": "+ Ca", "align": "right", "baseline": "middle", "fontSize": 13, "color": "#000000"}, "encoding": {"x": {"datum": "max", "bandPosition": 0.531}, "y": {"datum": 0.597}}},
         {"mark": {"type": "text", "text": "2+", "align": "left", "baseline": "middle", "fontSize": 9, "color": "#000000"}, "encoding": {"x": {"datum": "max", "bandPosition": 0.544}, "y": {"datum": 0.615}}},
         {"mark": {"type": "text", "text": "o", "align": "left", "baseline": "middle", "fontSize": 10, "color": "#000000"}, "encoding": {"x": {"datum": "max", "bandPosition": 0.737}, "y": {"datum": 0.577}}},
         {"mark": {"type": "text", "text": "- Ca", "align": "right", "baseline": "middle", "fontSize": 13, "color": "#EE1C1C"}, "encoding": {"x": {"datum": "max", "bandPosition": 0.531}, "y": {"datum": 0.52}}},
         {"mark": {"type": "text", "text": "2+", "align": "left", "baseline": "middle", "fontSize": 9, "color": "#EE1C1C"}, "encoding": {"x": {"datum": "max", "bandPosition": 0.544}, "y": {"datum": 0.538}}},
         {"mark": {"type": "text", "text": "o", "align": "left", "baseline": "middle", "fontSize": 10, "color": "#EE1C1C"}, "encoding": {"x": {"datum": "max", "bandPosition": 0.737}, "y": {"datum": 0.5}}},
         {"mark": {"type": "text", "text": "D", "align": "left", "baseline": "middle", "fontSize": 15, "fontWeight": "bold"}, "encoding": {"x": {"datum": "max", "bandPosition": -1.263}, "y": {"datum": 0.639}}}
       ]}
      ]}
    ],
    "spacing": 123.7, "bounds": "flush",
    "resolve": {"scale": {"color": "independent", "x": "independent", "y": "independent", "opacity": "independent"}}}
  ]},
 {"spacing": 28,
  "resolve": {"scale": {"color": "independent", "x": "independent", "y": "independent", "opacity": "independent"}},
  "vconcat": [
   {"hconcat": [
     {"width": 68.3, "height": 168,
      "layer": [
       {"data": {"name": "E"}, "layer": [
         {"mark": {"type": "bar"},
          "encoding": {
           "x": {"field": "cond", "type": "nominal", "sort": null, "scale": {"domain": ["+ DMSO", "+ CPA"], "paddingInner": 0, "paddingOuter": 0}, "axis": null},
           "y": {"field": "value", "type": "quantitative", "scale": {"domain": [0, 1], "nice": false}, "axis": {"values": [0, 0.2, 0.4, 0.6, 0.8, 1], "tickCount": 12, "format": ".1f", "offset": 10, "title": "Δ 350/380"}},
           "color": {"field": "cond", "type": "nominal", "scale": {"domain": ["+ DMSO", "+ CPA"], "range": ["#000000", "#2E9A3A"]}, "legend": null}}},
         {"mark": {"type": "rule", "strokeWidth": 1.5}, "encoding": {"x": {"field": "cond", "type": "nominal"}, "y": {"field": "value", "type": "quantitative"}, "y2": {"field": "err"}, "color": {"field": "cond", "type": "nominal"}}},
         {"mark": {"type": "tick", "orient": "horizontal", "size": 17, "thickness": 1.5, "opacity": 1}, "encoding": {"x": {"field": "cond", "type": "nominal"}, "y": {"field": "err", "type": "quantitative"}, "color": {"field": "cond", "type": "nominal"}}},
         {"mark": {"type": "text", "baseline": "alphabetic", "dy": 2, "fontSize": 12}, "encoding": {"x": {"field": "cond", "type": "nominal"}, "y": {"field": "err", "type": "quantitative"}, "text": {"field": "sig"}, "color": {"field": "cond", "type": "nominal"}}}
       ]},
       {"data": {"values": [{}]}, "layer": [
         {"mark": {"type": "text", "text": "+ DMSO", "align": "left", "baseline": "middle", "fontSize": 13, "color": "#000000"}, "encoding": {"x": {"datum": "+ DMSO", "bandPosition": 1.151}, "y": {"datum": 0.827}}},
         {"mark": {"type": "text", "text": "+ CPA", "align": "left", "baseline": "middle", "fontSize": 13, "color": "#2E9A3A"}, "encoding": {"x": {"datum": "+ DMSO", "bandPosition": 1.151}, "y": {"datum": 0.724}}},
         {"mark": {"type": "rule", "strokeWidth": 1.5, "color": "#333333"}, "encoding": {"y": {"datum": -0.0435}}},
         {"mark": {"type": "text", "text": "ionomycin", "align": "center", "baseline": "middle", "fontSize": 14}, "encoding": {"y": {"datum": -0.109}}},
         {"mark": {"type": "text", "text": "E", "align": "left", "baseline": "middle", "fontSize": 15, "fontWeight": "bold"}, "encoding": {"x": {"datum": "+ DMSO", "bandPosition": -1.698}, "y": {"datum": 1.024}}}
       ]}
      ]},
     {"width": 219.4, "height": 168,
      "layer": [
       {"data": {"name": "F"}, "mark": {"type": "line", "strokeWidth": 1.3},
        "encoding": {
         "x": {"field": "t", "type": "quantitative", "scale": {"domain": [-23.2, 211.5], "nice": false, "zero": false}, "axis": null},
         "y": {"field": "v", "type": "quantitative", "scale": {"domain": [-0.0389, 0.937], "nice": false, "zero": false}, "axis": null},
         "color": {"field": "cond", "type": "nominal", "scale": {"domain": ["+ DMSO", "+ CPA"], "range": ["#000000", "#2E9A3A"]}, "legend": null}}},
       {"data": {"values": [{}]}, "layer": [
         {"mark": {"type": "rule", "strokeWidth": 1.5, "color": "black"}, "encoding": {"x": {"datum": 6.4}, "y": {"datum": 0.242}, "y2": {"datum": 0.442}}},
         {"mark": {"type": "rule", "strokeWidth": 1.5, "color": "black"}, "encoding": {"x": {"datum": 6.4}, "x2": {"datum": 36.4}, "y": {"datum": 0.242}}},
         {"mark": {"type": "text", "text": "0.2", "angle": 270, "align": "center", "baseline": "middle", "fontSize": 12}, "encoding": {"x": {"datum": -12.5}, "y": {"datum": 0.339}}},
         {"mark": {"type": "text", "text": "350/380", "angle": 270, "align": "center", "baseline": "middle", "fontSize": 12}, "encoding": {"x": {"datum": -1.8}, "y": {"datum": 0.329}}},
         {"mark": {"type": "text", "text": "30 s", "align": "center", "baseline": "middle", "fontSize": 13}, "encoding": {"x": {"datum": 23.2}, "y": {"datum": 0.184}}},
         {"mark": {"type": "rule", "strokeWidth": 1.3, "color": "black"}, "encoding": {"x": {"datum": 64.2}, "y": {"datum": -0.097}, "y2": {"datum": -0.035}}},
         {"mark": {"type": "point", "shape": "triangle-up", "filled": true, "size": 35, "opacity": 1, "color": "black"}, "encoding": {"x": {"datum": 64.2}, "y": {"datum": -0.03}}},
         {"mark": {"type": "text", "text": "ionomycin", "align": "center", "baseline": "middle", "fontSize": 14}, "encoding": {"x": {"datum": 61}, "y": {"datum": -0.149}}},
         {"mark": {"type": "text", "text": "F", "align": "left", "baseline": "middle", "fontSize": 15, "fontWeight": "bold"}, "encoding": {"x": {"datum": 0}, "y": {"datum": 0.961}}}
       ]}
      ]},
     {"width": 68.3, "height": 168,
      "layer": [
       {"data": {"name": "G"}, "layer": [
         {"mark": {"type": "bar"},
          "encoding": {
           "x": {"field": "cond", "type": "nominal", "sort": null, "scale": {"domain": ["+ DMSO", "+ CPA"], "paddingInner": 0, "paddingOuter": 0}, "axis": null},
           "y": {"field": "value", "type": "quantitative", "scale": {"domain": [0, 0.4], "nice": false}, "axis": {"values": [0, 0.1, 0.2, 0.3, 0.4], "tickCount": 12, "format": ".1f", "offset": 7.7, "title": "Δ 350/380"}},
           "color": {"field": "cond", "type": "nominal", "scale": {"domain": ["+ DMSO", "+ CPA"], "range": ["#000000", "#2E9A3A"]}, "legend": null}}},
         {"mark": {"type": "rule", "strokeWidth": 1.5}, "encoding": {"x": {"field": "cond", "type": "nominal"}, "y": {"field": "value", "type": "quantitative"}, "y2": {"field": "err"}, "color": {"field": "cond", "type": "nominal"}}},
         {"mark": {"type": "tick", "orient": "horizontal", "size": 17, "thickness": 1.5, "opacity": 1}, "encoding": {"x": {"field": "cond", "type": "nominal"}, "y": {"field": "err", "type": "quantitative"}, "color": {"field": "cond", "type": "nominal"}}},
         {"mark": {"type": "text", "baseline": "alphabetic", "dy": 2, "fontSize": 12}, "encoding": {"x": {"field": "cond", "type": "nominal"}, "y": {"field": "err", "type": "quantitative"}, "text": {"field": "sig"}, "color": {"field": "cond", "type": "nominal"}}}
       ]},
       {"data": {"values": [{}]}, "layer": [
         {"mark": {"type": "text", "text": "+ DMSO", "align": "left", "baseline": "middle", "fontSize": 13, "color": "#000000"}, "encoding": {"x": {"datum": "+ DMSO", "bandPosition": 1.113}, "y": {"datum": 0.331}}},
         {"mark": {"type": "text", "text": "+ CPA", "align": "left", "baseline": "middle", "fontSize": 13, "color": "#2E9A3A"}, "encoding": {"x": {"datum": "+ DMSO", "bandPosition": 1.113}, "y": {"datum": 0.287}}},
         {"mark": {"type": "rule", "strokeWidth": 1.5, "color": "#333333"}, "encoding": {"y": {"datum": -0.0167}}},
         {"mark": {"type": "text", "text": "NAADP/AM", "align": "center", "baseline": "middle", "fontSize": 14}, "encoding": {"y": {"datum": -0.0429}}},
         {"mark": {"type": "text", "text": "G", "align": "left", "baseline": "middle", "fontSize": 15, "fontWeight": "bold"}, "encoding": {"x": {"datum": "+ DMSO", "bandPosition": -1.69}, "y": {"datum": 0.4095}}}
       ]}
      ]},
     {"width": 144, "height": 168,
      "layer": [
       {"data": {"name": "H"}, "mark": {"type": "line", "strokeWidth": 1.3},
        "encoding": {
         "x": {"field": "t", "type": "quantitative", "scale": {"domain": [-37, 341.7], "nice": false, "zero": false}, "axis": null},
         "y": {"field": "v", "type": "quantitative", "scale": {"domain": [-0.0588, 0.929], "nice": false, "zero": false}, "axis": null},
         "color": {"field": "cond", "type": "nominal", "scale": {"domain": ["+ DMSO", "+ CPA"], "range": ["#000000", "#2E9A3A"]}, "legend": null}}},
       {"data": {"values": [{}]}, "layer": [
         {"mark": {"type": "rule", "strokeWidth": 1.5, "color": "black"}, "encoding": {"x": {"datum": 50.6}, "y": {"datum": 0.216}, "y2": {"datum": 0.416}}},
         {"mark": {"type": "rule", "strokeWidth": 1.5, "color": "black"}, "encoding": {"x": {"datum": 50.6}, "x2": {"datum": 80.6}, "y": {"datum": 0.216}}},
         {"mark": {"type": "text", "text": "0.2", "angle": 270, "align": "center", "baseline": "middle", "fontSize": 12}, "encoding": {"x": {"datum": -13.4}, "y": {"datum": 0.323}}},
         {"mark": {"type": "text", "text": "350/380", "angle": 270, "align": "center", "baseline": "middle", "fontSize": 12}, "encoding": {"x": {"datum": 17.4}, "y": {"datum": 0.323}}},
         {"mark": {"type": "text", "text": "30 s", "align": "center", "baseline": "middle", "fontSize": 13}, "encoding": {"x": {"datum": 83}, "y": {"datum": 0.157}}},
         {"mark": {"type": "rule", "strokeWidth": 1.3, "color": "black"}, "encoding": {"x": {"datum": 30.6}, "y": {"datum": -0.123}, "y2": {"datum": -0.045}}},
         {"mark": {"type": "point", "shape": "triangle-up", "filled": true, "size": 35, "opacity": 1, "color": "black"}, "encoding": {"x": {"datum": 30.6}, "y": {"datum": -0.04}}},
         {"mark": {"type": "text", "text": "NAADP/AM", "align": "left", "baseline": "middle", "fontSize": 14}, "encoding": {"x": {"datum": -8.1}, "y": {"datum": -0.17}}},
         {"mark": {"type": "text", "text": "H", "align": "left", "baseline": "middle", "fontSize": 15, "fontWeight": "bold"}, "encoding": {"x": {"datum": -0.2}, "y": {"datum": 0.953}}}
       ]}
      ]}
    ],
    "spacing": 20, "bounds": "flush",
    "resolve": {"scale": {"color": "independent", "x": "independent", "y": "independent", "opacity": "independent"}}},
   {"hconcat": [
     {"width": 124, "height": 188.3,
      "resolve": {"scale": {"x": "independent", "y": "independent", "opacity": "independent"}, "axis": {"x": "independent", "y": "independent"}},
      "layer": [
       {"layer": [
         {"data": {"values": [{}]}, "mark": {"type": "rect", "color": "#0d0d0d"},
          "encoding": {
           "x": {"datum": 0.5, "type": "quantitative", "scale": {"domain": [0.5, 5.54], "nice": false, "zero": false}, "axis": null},
           "x2": {"datum": 5.5},
           "y": {"datum": 344, "type": "quantitative", "scale": {"type": "log", "domain": [17.04, 2584], "nice": false}, "axis": {"values": [500, 750, 1000], "tickCount": 12, "format": "d", "domain": false, "tickSize": 6, "labelPadding": 2, "labelFontSize": 11.5, "title": null, "orient": "left"}},
           "y2": {"datum": 1362}}},
         {"data": {"name": "gelI"}, "mark": {"type": "tick", "orient": "horizontal", "size": 23, "thickness": 9, "color": "#ffffff", "opacity": 0.2}, "encoding": {"x": {"field": "lane", "type": "quantitative"}, "y": {"field": "bp", "type": "quantitative"}}},
         {"data": {"name": "gelI"}, "mark": {"type": "tick", "orient": "horizontal", "size": 20, "thickness": 4.5, "color": "#f5f5f5"}, "encoding": {"x": {"field": "lane", "type": "quantitative"}, "y": {"field": "bp", "type": "quantitative"}, "opacity": {"field": "intensity", "type": "quantitative", "scale": {"domain": [0, 1], "range": [0, 1]}, "legend": null}}},
         {"data": {"values": [{}]}, "layer": [
           {"mark": {"type": "text", "text": "bp", "align": "center", "baseline": "middle", "fontSize": 13}, "encoding": {"x": {"datum": -0.069}, "y": {"datum": 1532}}},
           {"mark": {"type": "text", "text": "blank", "angle": 270, "align": "left", "baseline": "middle", "fontSize": 13}, "encoding": {"x": {"datum": 1.15}, "y": {"datum": 1504}}},
           {"mark": {"type": "text", "text": "actin", "angle": 270, "align": "left", "baseline": "middle", "fontSize": 13}, "encoding": {"x": {"datum": 2.13}, "y": {"datum": 1504}}},
           {"mark": {"type": "text", "text": "IP", "align": "right", "baseline": "middle", "fontSize": 14}, "encoding": {"x": {"datum": 4.06}, "y": {"datum": 3008}}},
           {"mark": {"type": "text", "text": "3", "align": "left", "baseline": "middle", "fontSize": 8}, "encoding": {"x": {"datum": 4.07}, "y": {"datum": 2653}}},
           {"mark": {"type": "text", "text": "R", "align": "left", "baseline": "middle", "fontSize": 14}, "encoding": {"x": {"datum": 4.26}, "y": {"datum": 3008}}},
           {"mark": {"type": "rule", "strokeWidth": 1.5, "color": "#333333"}, "encoding": {"x": {"datum": 2.64}, "x2": {"datum": 5.42}, "y": {"datum": 2167}}},
           {"mark": {"type": "text", "text": "1", "align": "center", "baseline": "middle", "fontSize": 14}, "encoding": {"x": {"datum": 3}, "y": {"datum": 1705}}},
           {"mark": {"type": "text", "text": "2", "align": "center", "baseline": "middle", "fontSize": 14}, "encoding": {"x": {"datum": 4}, "y": {"datum": 1705}}},
           {"mark": {"type": "text", "text": "3", "align": "center", "baseline": "middle", "fontSize": 14}, "encoding": {"x": {"datum": 5}, "y": {"datum": 1705}}},
           {"mark": {"type": "text", "text": "I", "align": "left", "baseline": "middle", "fontSize": 15, "fontWeight": "bold"}, "encoding": {"x": {"datum": -1.614}, "y": {"datum": 2632}}}
         ]}
       ]},
       {"layer": [
         {"data": {"values": [{}]}, "mark": {"type": "rect", "color": "#0d0d0d"},
          "encoding": {
           "x": {"datum": 0.474, "type": "quantitative", "scale": {"domain": [0.474, 5.03], "nice": false, "zero": false}, "axis": null},
           "x2": {"datum": 3.49},
           "y": {"datum": 165.9, "type": "quantitative", "scale": {"type": "log", "domain": [165.9, 25840], "nice": false}, "axis": {"values": [250, 500, 750, 1000], "tickCount": 12, "format": "d", "domain": false, "tickSize": 6, "labelPadding": 2, "labelFontSize": 11.5, "title": null, "orient": "left"}},
           "y2": {"datum": 1175}}},
         {"data": {"name": "gelJ"}, "mark": {"type": "tick", "orient": "horizontal", "size": 23, "thickness": 9, "color": "#ffffff", "opacity": 0.2}, "encoding": {"x": {"field": "lane", "type": "quantitative"}, "y": {"field": "bp", "type": "quantitative"}}},
         {"data": {"name": "gelJ"}, "mark": {"type": "tick", "orient": "horizontal", "size": 20, "thickness": 4.5, "color": "#f5f5f5", "opacity": 1}, "encoding": {"x": {"field": "lane", "type": "quantitative"}, "y": {"field": "bp", "type": "quantitative"}}},
         {"data": {"values": [{}]}, "layer": [
           {"mark": {"type": "text", "text": "bp", "align": "center", "baseline": "middle", "fontSize": 13}, "encoding": {"x": {"datum": -0.04}, "y": {"datum": 1450}}},
           {"mark": {"type": "text", "text": "RyR", "align": "center", "baseline": "middle", "fontSize": 14}, "encoding": {"x": {"datum": 1.98}, "y": {"datum": 2278}}},
           {"mark": {"type": "rule", "strokeWidth": 1.5, "color": "#333333"}, "encoding": {"x": {"datum": 0.67}, "x2": {"datum": 3.45}, "y": {"datum": 1742}}},
           {"mark": {"type": "text", "text": "1", "align": "center", "baseline": "middle", "fontSize": 14}, "encoding": {"x": {"datum": 1}, "y": {"datum": 1369}}},
           {"mark": {"type": "text", "text": "2", "align": "center", "baseline": "middle", "fontSize": 14}, "encoding": {"x": {"datum": 2}, "y": {"datum": 1369}}},
           {"mark": {"type": "text", "text": "3", "align": "center", "baseline": "middle", "fontSize": 14}, "encoding": {"x": {"datum": 3}, "y": {"datum": 1369}}},
           {"mark": {"type": "text", "text": "J", "align": "left", "baseline": "middle", "fontSize": 15, "fontWeight": "bold"}, "encoding": {"x": {"datum": -1.327}, "y": {"datum": 1027}}}
         ]}
       ]}
      ]},
     {"width": 148, "height": 168,
      "layer": [
       {"data": {"name": "K"}, "mark": {"type": "line", "strokeWidth": 1.4},
        "encoding": {
         "x": {"field": "t", "type": "quantitative", "scale": {"domain": [0, 925], "nice": false, "zero": false}, "axis": null},
         "y": {"field": "v", "type": "quantitative", "scale": {"domain": [0, 1], "nice": false}, "axis": {"values": [0, 0.2, 0.4, 0.6, 0.8, 1], "tickCount": 12, "format": ".1f", "offset": 2, "title": "350/380", "titlePadding": 17}},
         "color": {"field": "series", "type": "nominal", "scale": {"domain": ["Ctrl", "2-APB", "Ry"], "range": ["#000000", "#FF4E1B", "#202090"]}, "legend": null}}},
       {"data": {"values": [{}]}, "layer": [
         {"mark": {"type": "rule", "strokeWidth": 2, "color": "#000000"}, "encoding": {"x": {"datum": 52}, "x2": {"datum": 146}, "y": {"datum": 0.992}}},
         {"mark": {"type": "rule", "strokeWidth": 2, "color": "#FF4E1B"}, "encoding": {"x": {"datum": 52}, "x2": {"datum": 146}, "y": {"datum": 0.897}}},
         {"mark": {"type": "rule", "strokeWidth": 2, "color": "#202090"}, "encoding": {"x": {"datum": 52}, "x2": {"datum": 146}, "y": {"datum": 0.808}}},
         {"mark": {"type": "text", "text": "Ctrl", "align": "left", "baseline": "middle", "fontSize": 13, "color": "#000000"}, "encoding": {"x": {"datum": 162}, "y": {"datum": 0.992}}},
         {"mark": {"type": "text", "text": "2-APB", "align": "left", "baseline": "middle", "fontSize": 13, "color": "#FF4E1B"}, "encoding": {"x": {"datum": 162}, "y": {"datum": 0.897}}},
         {"mark": {"type": "text", "text": "Ry", "align": "left", "baseline": "middle", "fontSize": 13, "color": "#202090"}, "encoding": {"x": {"datum": 162}, "y": {"datum": 0.808}}},
         {"mark": {"type": "rule", "strokeWidth": 1.5, "color": "black"}, "encoding": {"x": {"datum": 479}, "x2": {"datum": 579}, "y": {"datum": 0.421}}},
         {"mark": {"type": "text", "text": "100 s", "align": "center", "baseline": "middle", "fontSize": 13}, "encoding": {"x": {"datum": 510}, "y": {"datum": 0.48}}},
         {"mark": {"type": "rule", "strokeWidth": 1.3, "color": "black"}, "encoding": {"x": {"datum": 94}, "y": {"datum": -0.065}, "y2": {"datum": 0.07}}},
         {"mark": {"type": "point", "shape": "triangle-up", "filled": true, "size": 35, "opacity": 1, "color": "black"}, "encoding": {"x": {"datum": 94}, "y": {"datum": 0.076}}},
         {"mark": {"type": "rule", "strokeWidth": 1.3, "color": "black"}, "encoding": {"x": {"datum": 771}, "y": {"datum": -0.065}, "y2": {"datum": 0.07}}},
         {"mark": {"type": "point", "shape": "triangle-up", "filled": true, "size": 35, "opacity": 1, "color": "black"}, "encoding": {"x": {"datum": 771}, "y": {"datum": 0.076}}},
         {"mark": {"type": "rule", "strokeWidth": 1.3, "color": "black"}, "encoding": {"x": {"datum": 817}, "y": {"datum": -0.065}, "y2": {"datum": 0.07}}},
         {"mark": {"type": "point", "shape": "triangle-up", "filled": true, "size": 35, "opacity": 1, "color": "black"}, "encoding": {"x": {"datum": 817}, "y": {"datum": 0.076}}},
         {"mark": {"type": "rule", "strokeWidth": 1.3, "color": "black"}, "encoding": {"x": {"datum": 879}, "y": {"datum": -0.065}, "y2": {"datum": 0.07}}},
         {"mark": {"type": "point", "shape": "triangle-up", "filled": true, "size": 35, "opacity": 1, "color": "black"}, "encoding": {"x": {"datum": 879}, "y": {"datum": 0.076}}},
         {"mark": {"type": "text", "text": "NAADP/AM", "align": "center", "baseline": "middle", "fontSize": 14}, "encoding": {"x": {"datum": 162}, "y": {"datum": -0.115}}},
         {"mark": {"type": "text", "text": "ionomycin", "align": "center", "baseline": "middle", "fontSize": 14}, "encoding": {"x": {"datum": 777}, "y": {"datum": -0.115}}},
         {"mark": {"type": "text", "text": "K", "align": "left", "baseline": "middle", "fontSize": 15, "fontWeight": "bold"}, "encoding": {"x": {"datum": -375}, "y": {"datum": 1.016}}}
       ]}
      ]},
     {"width": 101, "height": 167.3,
      "layer": [
       {"data": {"name": "L"}, "layer": [
         {"mark": {"type": "bar"},
          "encoding": {
           "x": {"field": "series", "type": "nominal", "sort": null, "scale": {"domain": ["Ctrl", "2-APB", "Ry"], "paddingInner": 0, "paddingOuter": 0}, "axis": null},
           "y": {"field": "value", "type": "quantitative", "scale": {"domain": [0, 0.3], "nice": false}, "axis": {"values": [0, 0.1, 0.2, 0.3], "tickCount": 12, "format": ".1f", "offset": 9, "title": "Δ 350/380", "titlePadding": 12}},
           "color": {"field": "series", "type": "nominal", "scale": {"domain": ["Ctrl", "2-APB", "Ry"], "range": ["#000000", "#FF4E1B", "#202090"]}, "legend": null}}},
         {"mark": {"type": "rule", "strokeWidth": 1.5}, "encoding": {"x": {"field": "series", "type": "nominal"}, "y": {"field": "value", "type": "quantitative"}, "y2": {"field": "err"}, "color": {"field": "series", "type": "nominal"}}},
         {"mark": {"type": "tick", "orient": "horizontal", "size": 16, "thickness": 1.5, "opacity": 1}, "encoding": {"x": {"field": "series", "type": "nominal"}, "y": {"field": "err", "type": "quantitative"}, "color": {"field": "series", "type": "nominal"}}},
         {"mark": {"type": "text", "baseline": "alphabetic", "dy": 2, "fontSize": 12}, "encoding": {"x": {"field": "series", "type": "nominal"}, "y": {"field": "err", "type": "quantitative"}, "text": {"field": "sig"}, "color": {"field": "series", "type": "nominal"}}}
       ]},
       {"data": {"values": [{}]}, "layer": [
         {"mark": {"type": "point", "shape": "square", "filled": true, "size": 169, "opacity": 1, "color": "#000000"}, "encoding": {"x": {"datum": "Ctrl", "bandPosition": 1.387}, "y": {"datum": 0.281}}},
         {"mark": {"type": "point", "shape": "square", "filled": true, "size": 169, "opacity": 1, "color": "#FF4E1B"}, "encoding": {"x": {"datum": "Ctrl", "bandPosition": 1.387}, "y": {"datum": 0.243}}},
         {"mark": {"type": "point", "shape": "square", "filled": true, "size": 169, "opacity": 1, "color": "#202090"}, "encoding": {"x": {"datum": "Ctrl", "bandPosition": 1.387}, "y": {"datum": 0.206}}},
         {"mark": {"type": "text", "text": "Ctrl", "align": "left", "baseline": "middle", "fontSize": 13, "color": "#000000"}, "encoding": {"x": {"datum": "Ctrl", "bandPosition": 1.663}, "y": {"datum": 0.281}}},
         {"mark": {"type": "text", "text": "2-APB", "align": "left", "baseline": "middle", "fontSize": 13, "color": "#FF4E1B"}, "encoding": {"x": {"datum": "Ctrl", "bandPosition": 1.663}, "y": {"datum": 0.243}}},
         {"mark": {"type": "text", "text": "Ry", "align": "left", "baseline": "middle", "fontSize": 13, "color": "#202090"}, "encoding": {"x": {"datum": "Ctrl", "bandPosition": 1.663}, "y": {"datum": 0.206}}},
         {"mark": {"type": "rule", "strokeWidth": 1.5, "color": "#333333"}, "encoding": {"y": {"datum": -0.009}}},
         {"mark": {"type": "text", "text": "NAADP/AM", "align": "center", "baseline": "middle", "fontSize": 14}, "encoding": {"y": {"datum": -0.0359}}},
         {"mark": {"type": "text", "text": "L", "align": "left", "baseline": "middle", "fontSize": 15, "fontWeight": "bold"}, "encoding": {"x": {"datum": "Ctrl", "bandPosition": -1.761}, "y": {"datum": 0.299}}}
       ]}
      ]}
    ],
    "spacing": 92, "bounds": "flush",
    "resolve": {"scale": {"color": "independent", "x": "independent", "y": "independent", "opacity": "independent"}}}
  ]}
]
}
